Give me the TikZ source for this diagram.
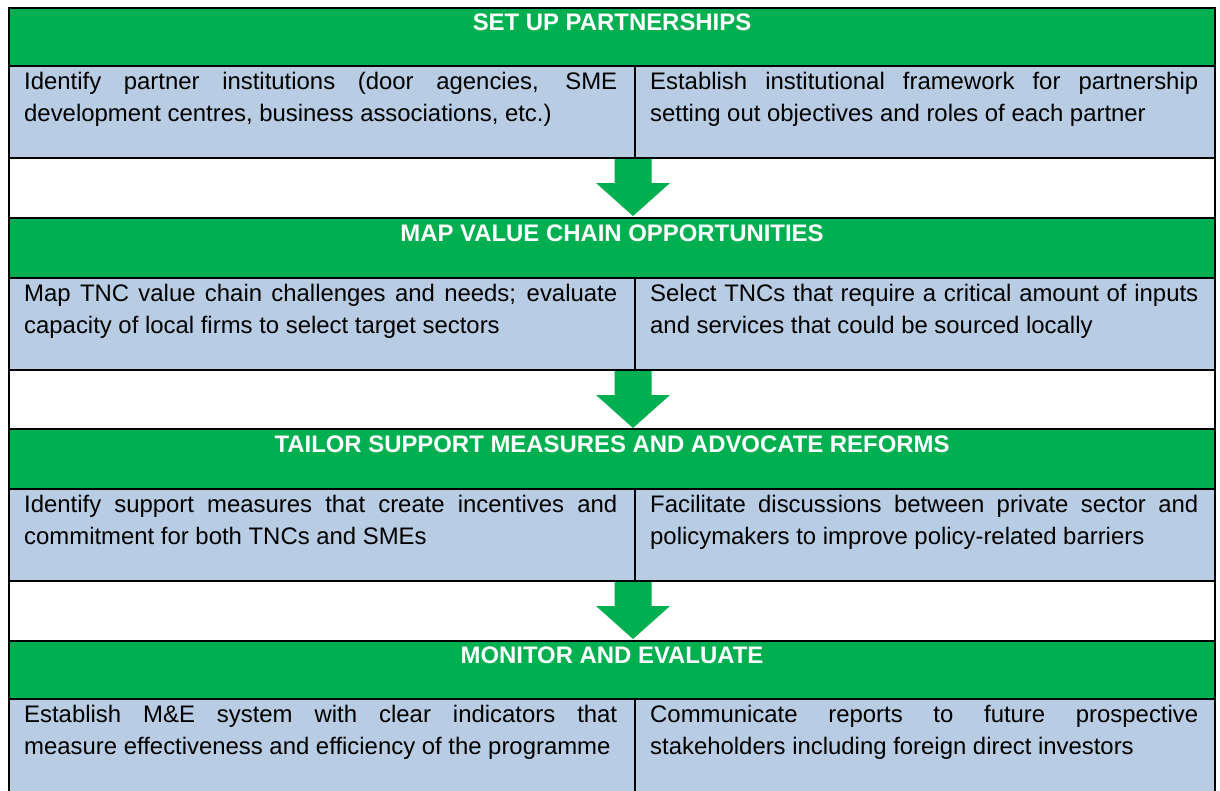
\documentclass[tikz,border=0pt]{standalone}
\usepackage{fontspec}
\setmainfont{Liberation Sans}
\usetikzlibrary{calc}
\definecolor{hgreen}{HTML}{00B050}
\definecolor{cblue}{HTML}{B8CCE4}
\tikzset{
  cell/.style={draw=black, line width=2pt, inner sep=0pt, outer sep=0pt, anchor=north west, rectangle},
  hdr/.style={cell, fill=hgreen, minimum width=1206pt},
  gap/.style={cell, fill=white, minimum width=1206pt},
  lcell/.style={cell, fill=cblue, minimum width=626pt},
  rcell/.style={cell, fill=cblue, minimum width=580pt},
  htext/.style={anchor=base, text=white, inner sep=0pt, font=\fontsize{23.9}{27.5}\selectfont\bfseries},
  btext/.style={anchor=north west, inner sep=0pt, text width=593pt, align=justify, font=\fontsize{23.9}{31.7}\selectfont},
  rtext/.style={btext, text width=548pt},
  flow/.style={fill=hgreen},
}
\begin{document}
\begin{tikzpicture}[x=1pt,y=-1pt]
\useasboundingbox (0,0) rectangle (1220,790);
% section 1
\node[hdr, minimum height=58pt] (h1) at (9,8) {};
\node[lcell, minimum height=92pt] (b1l) at (9,66) {};
\node[rcell, minimum height=92pt] (b1r) at (635,66) {};
\node[gap, minimum height=60pt] (w1) at (9,158) {};
% section 2
\node[hdr, minimum height=60pt] (h2) at (9,218) {};
\node[lcell, minimum height=92pt] (b2l) at (9,278) {};
\node[rcell, minimum height=92pt] (b2r) at (635,278) {};
\node[gap, minimum height=59pt] (w2) at (9,370) {};
% section 3
\node[hdr, minimum height=60pt] (h3) at (9,429) {};
\node[lcell, minimum height=92pt] (b3l) at (9,489) {};
\node[rcell, minimum height=92pt] (b3r) at (635,489) {};
\node[gap, minimum height=60pt] (w3) at (9,581) {};
% section 4
\node[hdr, minimum height=58pt] (h4) at (9,641) {};
\node[lcell, minimum height=94pt] (b4l) at (9,699) {};
\node[rcell, minimum height=94pt] (b4r) at (635,699) {};

% headers
\node[htext] (t1) at ($(h1.north)+(0,22.5)$) {SET UP PARTNERSHIPS};
\node[htext] (t2) at ($(h2.north)+(0,23)$) {MAP VALUE CHAIN OPPORTUNITIES};
\node[htext] (t3) at ($(h3.north)+(0,23)$) {TAILOR SUPPORT MEASURES AND ADVOCATE REFORMS};
\node[htext] (t4) at ($(h4.north)+(0,22.5)$) {MONITOR AND EVALUATE};

% cell texts
\node[btext] (l1) at ($(b1l.north west)+(15,1.5)$) {\strut Identify partner institutions (door agencies, SME\linebreak development centres, business associations, etc.)};
\node[rtext] (r1) at ($(b1r.north west)+(15,1.5)$) {\strut Establish institutional framework for partnership\linebreak setting out objectives and roles of each partner};
\node[btext] (l2) at ($(b2l.north west)+(15,1.3)$) {\strut Map TNC value chain challenges and needs; evaluate\linebreak capacity of local firms to select target sectors};
\node[rtext] (r2) at ($(b2r.north west)+(15,1.3)$) {\strut Select TNCs that require a critical amount of inputs\linebreak and services that could be sourced locally};
\node[btext] (l3) at ($(b3l.north west)+(15,1.3)$) {\strut Identify support measures that create incentives and\linebreak commitment for both TNCs and SMEs};
\node[rtext] (r3) at ($(b3r.north west)+(15,1.3)$) {\strut Facilitate discussions between private sector and\linebreak policymakers to improve policy-related barriers};
\node[btext] (l4) at ($(b4l.north west)+(15,1.5)$) {\strut Establish M\&E system with clear indicators that\linebreak measure effectiveness and efficiency of the programme};
\node[rtext] (r4) at ($(b4r.north west)+(15,1.5)$) {\strut Communicate reports to future prospective\linebreak stakeholders including foreign direct investors};

% arrows
\foreach \s in {1,2,3} {
  \fill[flow] ($(b\s l.south east)+(-20.5,1)$) -- ++(37,0) -- ++(0,24) -- ++(18.5,0)
     -- ++(-37,33) -- ++(-37,-33) -- ++(18.5,0) -- cycle;
}
\end{tikzpicture}
\end{document}
